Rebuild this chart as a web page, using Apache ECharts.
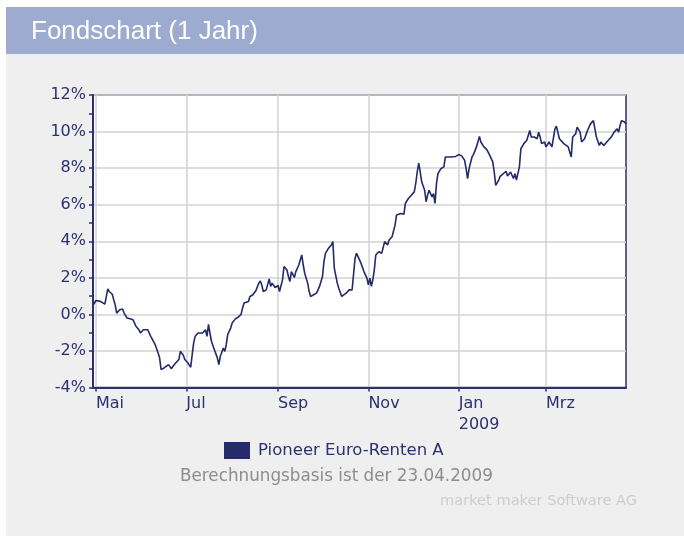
<!DOCTYPE html>
<html>
<head>
<meta charset="utf-8">
<script src="https://cdn.jsdelivr.net/npm/echarts@6/dist/echarts.min.js"></script>
<style>
html,body{margin:0;padding:0;background:#fff;}
#chart{width:684px;height:536px;}
</style>
</head>
<body>
<div id="chart"></div>
<script>
// ---- data ----
const titleText = 'Fondschart (1 Jahr)';
const seriesName = 'Pioneer Euro-Renten A';
const noteText = 'Berechnungsbasis ist der 23.04.2009';
const creditText = 'market maker Software AG';

const xMin = '2008-04-29';
const xMax = '2009-04-24';
const xTickDates = ['2008-05-01','2008-07-01','2008-09-01','2008-11-01','2009-01-01','2009-03-01'];
const xTickLabels = ['Mai','Jul','Sep','Nov','Jan\n2009','Mrz'];
const yMin = -4, yMax = 12, yStep = 2;

const dates = [
'2008-04-29','2008-05-01','2008-05-04','2008-05-07','2008-05-09','2008-05-10','2008-05-12','2008-05-13','2008-05-14','2008-05-15',
'2008-05-17','2008-05-19','2008-05-20','2008-05-22','2008-05-24','2008-05-26','2008-05-28','2008-05-30','2008-05-31','2008-06-02',
'2008-06-03','2008-06-05','2008-06-07','2008-06-08','2008-06-10','2008-06-12','2008-06-13','2008-06-14','2008-06-16','2008-06-17',
'2008-06-19','2008-06-21','2008-06-22','2008-06-24','2008-06-26','2008-06-27','2008-06-29','2008-06-30','2008-07-01','2008-07-02',
'2008-07-04','2008-07-05','2008-07-06','2008-07-07','2008-07-09','2008-07-10','2008-07-12','2008-07-14','2008-07-15','2008-07-16',
'2008-07-17','2008-07-18','2008-07-20','2008-07-22','2008-07-23','2008-07-24','2008-07-26','2008-07-27','2008-07-28','2008-07-29',
'2008-07-31','2008-08-01','2008-08-03','2008-08-05','2008-08-07','2008-08-08','2008-08-09','2008-08-12','2008-08-13','2008-08-15',
'2008-08-17','2008-08-19','2008-08-20','2008-08-21','2008-08-22','2008-08-24','2008-08-25','2008-08-26','2008-08-27','2008-08-28',
'2008-08-30','2008-09-01','2008-09-02','2008-09-04','2008-09-05','2008-09-07','2008-09-08','2008-09-09','2008-09-10','2008-09-12',
'2008-09-13','2008-09-15','2008-09-17','2008-09-18','2008-09-19','2008-09-21','2008-09-22','2008-09-23','2008-09-25','2008-09-27',
'2008-09-29','2008-10-01','2008-10-02','2008-10-03','2008-10-05','2008-10-07','2008-10-08','2008-10-09','2008-10-11','2008-10-12',
'2008-10-14','2008-10-15','2008-10-17','2008-10-19','2008-10-20','2008-10-21','2008-10-23','2008-10-24','2008-10-25','2008-10-27',
'2008-10-29','2008-10-30','2008-10-31','2008-11-01','2008-11-02','2008-11-03','2008-11-04','2008-11-05','2008-11-06','2008-11-08',
'2008-11-10','2008-11-11','2008-11-12','2008-11-14','2008-11-15','2008-11-17','2008-11-18','2008-11-19','2008-11-20','2008-11-23',
'2008-11-25','2008-11-26','2008-11-28','2008-11-30','2008-12-02','2008-12-03','2008-12-04','2008-12-05','2008-12-06','2008-12-07',
'2008-12-09','2008-12-10','2008-12-11','2008-12-12','2008-12-14','2008-12-15','2008-12-16','2008-12-17','2008-12-18','2008-12-20',
'2008-12-22','2008-12-23','2008-12-26','2008-12-30','2009-01-01','2009-01-03','2009-01-05','2009-01-06','2009-01-07','2009-01-08',
'2009-01-10','2009-01-11','2009-01-13','2009-01-15','2009-01-16','2009-01-18','2009-01-20','2009-01-22','2009-01-24','2009-01-25',
'2009-01-26','2009-01-28','2009-01-29','2009-01-30','2009-02-02','2009-02-03','2009-02-05','2009-02-07','2009-02-08','2009-02-09',
'2009-02-11','2009-02-12','2009-02-14','2009-02-16','2009-02-18','2009-02-19','2009-02-21','2009-02-23','2009-02-24','2009-02-25',
'2009-02-26','2009-02-28','2009-03-01','2009-03-03','2009-03-05','2009-03-07','2009-03-08','2009-03-10','2009-03-11','2009-03-13',
'2009-03-14','2009-03-16','2009-03-17','2009-03-18','2009-03-19','2009-03-21','2009-03-22','2009-03-24','2009-03-25','2009-03-27',
'2009-03-29','2009-03-31','2009-04-02','2009-04-03','2009-04-04','2009-04-06','2009-04-07','2009-04-09','2009-04-11','2009-04-14',
'2009-04-16','2009-04-18','2009-04-19','2009-04-20','2009-04-21','2009-04-23','2009-04-24'
];
const values = [
0.50,0.76,0.71,0.56,1.40,1.25,1.10,0.80,0.52,0.07,
0.25,0.29,0.07,-0.20,-0.24,-0.29,-0.65,-0.84,-1.02,-0.84,
-0.89,-0.84,-1.20,-1.29,-1.66,-2.11,-2.38,-3.02,-2.93,-2.84,
-2.75,-2.97,-2.84,-2.65,-2.47,-2.02,-2.24,-2.47,-2.42,-2.65,
-2.89,-2.20,-1.56,-1.20,-1.02,-0.93,-1.02,-0.84,-1.20,-0.55,
-1.02,-1.47,-1.93,-2.38,-2.75,-2.29,-1.84,-2.02,-1.66,-1.11,
-0.75,-0.47,-0.26,-0.16,0.00,0.34,0.62,0.71,0.98,1.07,
1.29,1.71,1.83,1.61,1.25,1.34,1.29,1.94,1.53,1.71,
1.47,1.58,1.25,1.89,2.62,2.43,2.07,1.80,2.34,2.02,
2.34,2.70,3.25,2.70,2.25,1.71,1.25,0.98,1.07,1.16,
1.53,2.07,2.89,3.34,3.61,3.79,3.98,2.52,1.71,1.43,
0.98,0.89,1.16,1.34,1.29,1.34,3.07,3.34,3.16,2.80,
2.34,2.16,1.98,1.61,1.98,1.53,1.89,2.43,3.25,3.43,
3.34,3.43,3.98,3.79,4.07,4.25,4.34,4.88,5.43,5.52,
5.48,6.07,6.34,6.52,6.70,7.16,7.79,8.28,7.79,7.25,
6.79,6.16,6.52,6.79,6.43,6.61,6.07,7.16,7.70,7.97,
8.07,8.61,8.61,8.64,8.74,8.67,8.43,7.97,7.43,7.97,
8.61,8.75,9.16,9.73,9.43,9.16,9.01,8.70,8.34,7.79,
7.06,7.34,7.55,7.61,7.83,7.57,7.79,7.43,7.70,7.34,
8.07,9.06,9.34,9.52,10.06,9.70,9.70,9.61,9.97,9.70,
9.34,9.43,9.16,9.43,9.16,10.15,10.30,9.61,9.70,9.34,
9.43,9.16,9.25,8.61,9.70,9.88,10.24,9.97,9.43,9.61,
10.06,10.42,10.60,10.15,9.70,9.24,9.43,9.24,9.43,9.70,
9.97,10.15,9.97,10.33,10.60,10.52,10.42
];

// ---- helpers ----
function ts(s){ const p = s.split('-').map(Number); return Date.UTC(p[0], p[1]-1, p[2]); }
const tickTs = xTickDates.map(ts);
const navy = '#2b3072';
const gridColor = '#d2d2d2';

const chart = echarts.init(document.getElementById('chart'), null, {renderer:'canvas'});
chart.setOption({
  backgroundColor: '#ffffff',
  animation: false,
  graphic: [
    {type:'rect', z:-10, shape:{x:6, y:54, width:678, height:482}, style:{fill:'#efefef'}},
    {type:'rect', z:-10, shape:{x:6, y:7, width:678, height:47}, style:{fill:'#9eabd0'}},
    {type:'text', z:10, x:31, y:32, style:{text:titleText, font:'26px "Liberation Sans", Arial, sans-serif', fill:'#ffffff', align:'left', verticalAlign:'middle'}},
    {type:'text', z:10, x:180, y:477, style:{text:noteText, font:'16.8px "DejaVu Sans", sans-serif', fill:'#8c8c8c', align:'left', verticalAlign:'middle'}},
    {type:'text', z:10, x:440, y:501, style:{text:creditText, font:'14.6px "DejaVu Sans", sans-serif', fill:'#cdcdcd', align:'left', verticalAlign:'middle'}}
  ],
  legend: {
    left: 219, top: 437,
    icon: 'rect', itemWidth: 26, itemHeight: 17,
    textStyle: {fontFamily:'"DejaVu Sans", sans-serif', fontSize:16.5, color:navy, padding:[0,0,0,3]},
    data: [seriesName]
  },
  grid: {
    left: 93, right: 58, top: 95, bottom: 148.5,
    show: true, backgroundColor: '#ffffff', borderColor: navy, borderWidth: 1.5
  },
  xAxis: {
    type: 'value', min: ts(xMin), max: ts(xMax),
    axisLine: {show:true, onZero:false, lineStyle:{color:navy, width:2}},
    axisTick: {show:true, customValues: tickTs, length:4, inside:false, lineStyle:{color:navy, width:1.5}},
    axisLabel: {
      customValues: tickTs,
      formatter: function(v){ const i = tickTs.indexOf(v); return i >= 0 ? xTickLabels[i] : ''; },
      align: 'left', color: navy, fontSize: 16, fontFamily: '"DejaVu Sans", sans-serif', margin: 6, lineHeight: 21
    },
    splitLine: {show:true, lineStyle:{color:gridColor, width:1.5}}
  },
  yAxis: {
    type: 'value', min: yMin, max: yMax, interval: yStep,
    axisLine: {show:true, lineStyle:{color:navy, width:2}},
    axisTick: {show:true, length:4, lineStyle:{color:navy, width:1.5}},
    minorTick: {show:true, splitNumber:2, length:4, lineStyle:{color:navy, width:1.5}},
    axisLabel: {formatter:'{value}%', color:navy, fontSize:16, fontFamily:'"DejaVu Sans", sans-serif', margin:7},
    splitLine: {show:true, lineStyle:{color:gridColor, width:1.5}}
  },
  series: [{
    name: seriesName,
    type: 'line',
    showSymbol: false,
    data: dates.map(function(d, i){ return [ts(d), values[i]]; }),
    lineStyle: {color:'#232a6a', width:1.6},
    itemStyle: {color:'#262b6b'},
    z: 5
  }]
});
</script>
</body>
</html>
